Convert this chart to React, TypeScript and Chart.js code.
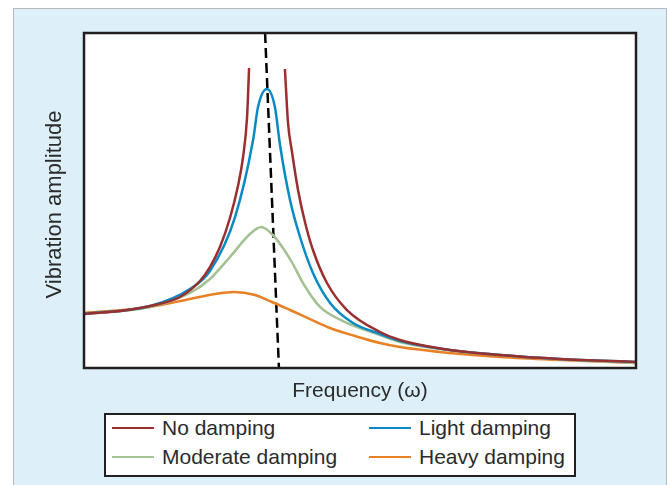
import React, { useEffect, useRef } from "react";
import { Chart, registerables } from "chart.js";

Chart.register(...registerables);

// ---- Data (frequency ratio vs. vibration amplitude) ----
const noDampFreq = [0, 0.198, 0.363, 0.527, 0.637, 0.692, 0.747, 0.802, 0.846, 0.874, 0.896, 0.907, 1.0, 1.104, 1.121, 1.143, 1.176, 1.214, 1.258, 1.335, 1.445, 1.626, 1.736, 2.011, 2.286, 2.615, 3.033];
const noDampAmp: (number | null)[] = [1.0, 1.056, 1.148, 1.315, 1.611, 1.87, 2.241, 2.778, 3.37, 3.907, 4.648, 5.556, null, 5.537, 4.537, 4.0, 3.296, 2.704, 2.185, 1.574, 1.074, 0.667, 0.519, 0.333, 0.241, 0.167, 0.111];

const lightFreq = [0, 0.363, 0.582, 0.692, 0.83, 0.929, 0.956, 1.005, 1.049, 1.077, 1.132, 1.187, 1.258, 1.352, 1.478, 1.626, 1.736, 2.011, 2.286, 2.615, 3.033];
const lightAmp = [1.0, 1.148, 1.463, 1.796, 2.796, 4.222, 4.833, 5.167, 4.833, 4.13, 3.111, 2.426, 1.759, 1.204, 0.833, 0.63, 0.5, 0.333, 0.241, 0.167, 0.111];

const moderateFreq = [0, 0.363, 0.582, 0.692, 0.802, 0.912, 0.973, 1.038, 1.104, 1.148, 1.203, 1.297, 1.423, 1.626, 1.736, 2.011, 2.286, 2.615, 3.033];
const moderateAmp = [1.0, 1.13, 1.389, 1.648, 2.056, 2.481, 2.611, 2.463, 2.167, 1.926, 1.574, 1.13, 0.87, 0.611, 0.481, 0.33, 0.241, 0.16, 0.093];

const heavyFreq = [0, 0.363, 0.582, 0.72, 0.824, 0.94, 1.033, 1.132, 1.242, 1.352, 1.489, 1.626, 1.736, 2.011, 2.286, 2.615, 3.033];
const heavyAmp = [1.019, 1.13, 1.278, 1.37, 1.407, 1.352, 1.222, 1.074, 0.907, 0.741, 0.593, 0.463, 0.389, 0.278, 0.204, 0.148, 0.093];

const resonanceFreq = [0.995, 1.071];
const resonanceAmp = [6.204, 0];

const seriesNames = ["No damping", "Light damping", "Moderate damping", "Heavy damping"];
const seriesColors = ["#9a2f30", "#0a8ac4", "#a3c192", "#ea8024"];

const xMin = 0;
const xMax = 3.033;
const yMin = 0;
const yMax = 6.204;

const xTitle = "Frequency (\u03c9)";
const yTitle = "Vibration amplitude";

const FONT = '"Liberation Sans", Arial, sans-serif';
const TEXT = "#2b2b2b";

function toPoints(xs: number[], ys: (number | null)[]) {
  return xs.map((x, i) => ({ x, y: ys[i] }));
}

const framePlugin = {
  id: "frameAndTitles",
  beforeDraw(chart: any) {
    const { ctx, chartArea } = chart;
    ctx.save();
    ctx.fillStyle = "#ffffff";
    ctx.fillRect(chartArea.left, chartArea.top, chartArea.right - chartArea.left, chartArea.bottom - chartArea.top);
    ctx.restore();
  },
  afterDraw(chart: any) {
    const { ctx, chartArea } = chart;
    ctx.save();
    ctx.strokeStyle = "#231f20";
    ctx.lineWidth = 2.5;
    ctx.strokeRect(chartArea.left, chartArea.top, chartArea.right - chartArea.left, chartArea.bottom - chartArea.top);
    ctx.fillStyle = TEXT;
    ctx.font = `21px ${FONT}`;
    ctx.textAlign = "center";
    ctx.textBaseline = "middle";
    ctx.fillText(xTitle, (chartArea.left + chartArea.right) / 2, chartArea.bottom + 23);
    ctx.translate(chartArea.left - 29, (chartArea.top + chartArea.bottom) / 2 + 4);
    ctx.rotate(-Math.PI / 2);
    ctx.font = `22px ${FONT}`;
    ctx.fillText(yTitle, 0, 0);
    ctx.restore();
  },
};

export default function App() {
  const canvasRef = useRef<HTMLCanvasElement | null>(null);

  useEffect(() => {
    if (!canvasRef.current) return;
    const lineBase = {
      borderWidth: 2.5,
      pointRadius: 0,
      fill: false,
      cubicInterpolationMode: "monotone" as const,
      spanGaps: false,
    };
    const chart = new Chart(canvasRef.current, {
      type: "line",
      data: {
        datasets: [
          { ...lineBase, label: seriesNames[0], data: toPoints(noDampFreq, noDampAmp) as any, borderColor: seriesColors[0] },
          { ...lineBase, label: seriesNames[1], data: toPoints(lightFreq, lightAmp) as any, borderColor: seriesColors[1] },
          { ...lineBase, label: seriesNames[2], data: toPoints(moderateFreq, moderateAmp) as any, borderColor: seriesColors[2] },
          { ...lineBase, label: seriesNames[3], data: toPoints(heavyFreq, heavyAmp) as any, borderColor: seriesColors[3] },
          {
            label: "Resonance",
            data: toPoints(resonanceFreq, resonanceAmp) as any,
            borderColor: "#000000",
            borderWidth: 2.5,
            borderDash: [10, 5],
            pointRadius: 0,
            tension: 0,
            fill: false,
          },
        ],
      },
      options: {
        animation: false,
        responsive: false,
        maintainAspectRatio: false,
        layout: { padding: { left: 84, top: 33, right: 32, bottom: 117 } },
        plugins: { legend: { display: false }, tooltip: { enabled: false } },
        scales: {
          x: { type: "linear", min: xMin, max: xMax, display: false },
          y: { type: "linear", min: yMin, max: yMax, display: false },
        },
      },
      plugins: [framePlugin],
    });
    return () => chart.destroy();
  }, []);

  const legendItem = (i: number, left: number, top: number) => (
    <div key={i} style={{ position: "absolute", left, top, height: 26, display: "flex", alignItems: "center" }}>
      <div style={{ width: 42, height: 0, borderTop: `2.5px solid ${seriesColors[i]}`, marginRight: 8 }} />
      <span style={{ font: `21px ${FONT}`, color: TEXT, whiteSpace: "nowrap" }}>{seriesNames[i]}</span>
    </div>
  );

  return (
    <div style={{ position: "absolute", left: 0, top: 0, width: 668, height: 485, background: "#ffffff", overflow: "hidden" }}>
      <div
        style={{
          position: "absolute",
          left: 13,
          top: 8,
          width: 652,
          height: 490,
          background: "#ddf0fa",
          borderLeft: "1.5px solid #b9b9b9",
          borderTop: "1.5px solid #b9b9b9",
          borderRight: "1.5px solid #b9b9b9",
        }}
      />
      <canvas ref={canvasRef} width={668} height={485} style={{ position: "absolute", left: 0, top: 0, width: 668, height: 485 }} />
      <div
        style={{
          position: "absolute",
          left: 104,
          top: 413,
          width: 468,
          height: 60,
          background: "#ffffff",
          border: "2px solid #231f20",
        }}
      >
        {legendItem(0, 6, 0)}
        {legendItem(1, 263, 0)}
        {legendItem(2, 6, 29)}
        {legendItem(3, 263, 29)}
      </div>
    </div>
  );
}
